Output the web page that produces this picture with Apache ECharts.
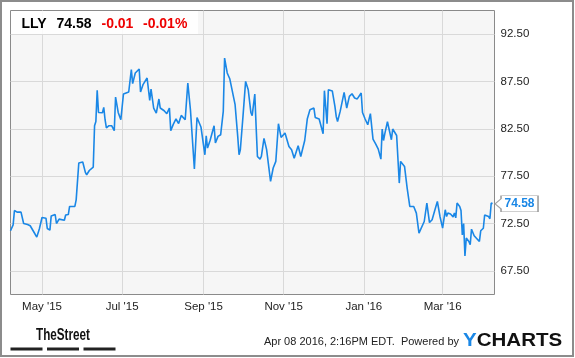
<!DOCTYPE html>
<html><head><meta charset="utf-8">
<script src="https://cdn.jsdelivr.net/npm/echarts@6/dist/echarts.min.js"></script>
<style>html,body{margin:0;padding:0;background:#fff}#c{width:575px;height:358px}</style>
</head><body><div id="c"></div>
<script>
const ticker = 'LLY';
const lastPrice = 74.58;
const change = '-0.01';
const changePct = '-0.01%';
const yTicks = [67.5, 72.5, 77.5, 82.5, 87.5, 92.5];
const xTicks = ['2015-05-01','2015-07-01','2015-09-01','2015-11-01','2016-01-01','2016-03-01'];
const monthNames = ['Jan','Feb','Mar','Apr','May','Jun','Jul','Aug','Sep','Oct','Nov','Dec'];
const footerText = 'Apr 08 2016, 2:16PM EDT.  Powered by';

const dates = [
'2015-04-07','2015-04-09','2015-04-10','2015-04-12','2015-04-13','2015-04-15','2015-04-17','2015-04-20','2015-04-22','2015-04-23',
'2015-04-25','2015-04-27','2015-04-28','2015-04-29','2015-04-30','2015-05-01','2015-05-04','2015-05-05','2015-05-07','2015-05-08',
'2015-05-11','2015-05-12','2015-05-14','2015-05-15','2015-05-18','2015-05-19','2015-05-21','2015-05-22','2015-05-24','2015-05-26',
'2015-05-27','2015-05-29','2015-06-01','2015-06-03','2015-06-04','2015-06-06','2015-06-09','2015-06-10','2015-06-11','2015-06-12',
'2015-06-13','2015-06-16','2015-06-17','2015-06-18','2015-06-19','2015-06-21','2015-06-22','2015-06-23','2015-06-25','2015-06-26',
'2015-06-28','2015-06-30','2015-07-02','2015-07-06','2015-07-08','2015-07-09','2015-07-11','2015-07-14','2015-07-15','2015-07-17',
'2015-07-20','2015-07-22','2015-07-23','2015-07-25','2015-07-27','2015-07-29','2015-07-30','2015-08-02','2015-08-04','2015-08-06',
'2015-08-07','2015-08-09','2015-08-11','2015-08-12','2015-08-13','2015-08-15','2015-08-18','2015-08-19','2015-08-20','2015-08-22',
'2015-08-25','2015-08-27','2015-08-30','2015-09-02','2015-09-03','2015-09-04','2015-09-06','2015-09-09','2015-09-10','2015-09-11',
'2015-09-12','2015-09-14','2015-09-16','2015-09-17','2015-09-19','2015-09-21','2015-09-22','2015-09-25','2015-09-27','2015-09-28',
'2015-09-29','2015-10-01','2015-10-03','2015-10-05','2015-10-07','2015-10-08','2015-10-10','2015-10-11','2015-10-12','2015-10-14',
'2015-10-15','2015-10-17','2015-10-19','2015-10-22','2015-10-23','2015-10-24','2015-10-26','2015-10-28','2015-10-30','2015-11-02',
'2015-11-05','2015-11-07','2015-11-09','2015-11-12','2015-11-14','2015-11-17','2015-11-18','2015-11-19','2015-11-21','2015-11-24',
'2015-11-25','2015-11-28','2015-12-01','2015-12-02','2015-12-04','2015-12-05','2015-12-08','2015-12-09','2015-12-10','2015-12-11',
'2015-12-12','2015-12-14','2015-12-17','2015-12-18','2015-12-19','2015-12-21','2015-12-23','2015-12-25','2015-12-27','2015-12-28',
'2015-12-30','2015-12-31','2016-01-02','2016-01-04','2016-01-06','2016-01-08','2016-01-10','2016-01-12','2016-01-13','2016-01-14',
'2016-01-15','2016-01-16','2016-01-17','2016-01-19','2016-01-22','2016-01-23','2016-01-26','2016-01-27','2016-01-28','2016-01-29',
'2016-02-01','2016-02-02','2016-02-03','2016-02-04','2016-02-05','2016-02-08','2016-02-10','2016-02-12','2016-02-13','2016-02-16',
'2016-02-18','2016-02-20','2016-02-22','2016-02-24','2016-02-26','2016-02-28','2016-03-01','2016-03-03','2016-03-04','2016-03-05',
'2016-03-07','2016-03-08','2016-03-09','2016-03-10','2016-03-11','2016-03-12','2016-03-14','2016-03-15','2016-03-16','2016-03-17',
'2016-03-18','2016-03-19','2016-03-21','2016-03-22','2016-03-23','2016-03-25','2016-03-26','2016-03-29','2016-03-30','2016-04-01',
'2016-04-02','2016-04-05','2016-04-06','2016-04-07','2016-04-08'
];
const prices = [
71.73,72.36,73.87,73.70,73.50,73.70,72.50,72.40,72.26,72.40,
71.55,71.06,70.88,71.94,71.73,73.13,73.06,71.97,71.80,73.30,
73.45,72.50,72.96,72.80,72.85,73.40,73.45,74.30,74.30,74.30,
75.00,78.89,79.00,77.90,77.65,78.10,78.46,82.83,83.28,86.56,
84.23,84.20,84.76,83.46,82.60,82.83,82.69,82.83,82.30,85.86,
84.23,83.46,86.18,86.39,88.75,87.27,88.40,88.82,86.39,87.20,
87.87,85.50,86.70,84.70,84.17,85.65,84.70,84.41,84.10,84.70,
82.30,83.00,83.54,83.46,83.06,83.92,83.46,83.40,87.34,84.52,
78.25,83.70,82.70,79.76,81.77,80.47,81.30,82.83,81.00,80.79,
81.70,81.87,84.34,89.98,88.40,87.76,87.76,85.05,81.70,79.76,
80.29,83.81,87.51,86.63,84.23,83.90,86.18,82.76,79.58,79.30,
79.58,81.49,80.30,76.94,77.00,78.36,79.06,83.04,81.59,82.06,
80.64,80.29,79.40,80.71,79.58,81.27,81.30,83.57,84.52,84.70,
83.70,83.54,81.98,86.53,83.04,86.63,86.50,86.45,84.87,83.81,
83.28,84.34,86.35,86.28,84.70,85.93,86.21,85.76,85.66,85.47,
86.28,84.23,83.54,82.93,84.10,81.42,80.92,80.36,80.40,79.30,
82.48,81.27,82.00,83.25,81.35,82.48,81.80,81.95,76.77,79.06,
78.53,78.36,76.24,76.10,74.30,74.30,73.60,71.49,71.30,72.71,
74.66,72.60,72.90,73.87,74.83,73.24,72.01,73.95,73.24,73.60,
73.50,73.40,73.20,73.60,73.10,74.66,74.30,73.87,71.30,72.50,
69.08,70.96,70.60,70.25,71.90,71.20,71.00,70.60,71.73,72.00,
73.40,73.24,73.00,74.66,74.58
];

const ts = s => new Date(s.length > 10 ? s : s + 'T00:00:00').getTime();
const FONT = '"Liberation Sans", Arial, sans-serif';
const lineColor = '#1a87e6';
const chart = echarts.init(document.getElementById('c'), null, {renderer: 'canvas'});
const seriesData = dates.map((d, i) => [ts(d), prices[i]]);
const xTickTs = xTicks.map(ts);

chart.setOption({
  animation: false,
  backgroundColor: '#fff',
  grid: {left: 10.5, right: 80.5, top: 10.5, bottom: 63.5, show: true,
         backgroundColor: '#f6f6f6', borderColor: '#8a8a8a', borderWidth: 1},
  xAxis: {
    type: 'value',
    min: ts('2015-04-07'),
    max: ts('2016-04-09T12:00:00'),
    axisLine: {show: false},
    axisTick: {show: false, customValues: xTickTs},
    splitLine: {show: true, lineStyle: {color: '#d9d9d9', width: 1}},
    axisLabel: {
      customValues: xTickTs,
      margin: 6,
      color: '#222', fontFamily: FONT, fontSize: 11.5,
      formatter: v => { const d = new Date(v); return monthNames[d.getMonth()] + " '" + String(d.getFullYear()).slice(2); }
    }
  },
  yAxis: {
    type: 'value',
    position: 'right',
    min: 65, max: 95,
    axisLine: {show: false},
    axisTick: {show: false, customValues: yTicks},
    splitLine: {show: true, lineStyle: {color: '#d9d9d9', width: 1}},
    axisLabel: {customValues: yTicks, margin: 6, color: '#222', fontFamily: FONT, fontSize: 11.5,
                formatter: v => v.toFixed(2)}
  },
  series: [{
    type: 'line',
    data: seriesData,
    showSymbol: false,
    symbol: 'none',
    lineStyle: {color: lineColor, width: 1.6},
    markPoint: {
      symbol: 'path://M0,8 L6,3 L6,0 L43,0 L43,16 L6,16 L6,13 Z',
      symbolSize: [43, 16],
      symbolOffset: [24, 0],
      itemStyle: {color: '#fff', borderColor: '#a0a0a0', borderWidth: 1},
      label: {show: true, position: 'inside', offset: [3, 0], color: lineColor, fontWeight: 'bold',
              fontFamily: FONT, fontSize: 12, formatter: () => lastPrice.toFixed(2)},
      data: [{coord: [ts(dates[dates.length - 1]), prices[prices.length - 1]]}]
    }
  }],
  graphic: [
    {type: 'rect', shape: {x: 11, y: 11, width: 187, height: 23}, style: {fill: 'rgba(255,255,255,0.85)'}, z: 50, silent: true},
    {type: 'text', x: 21.5, y: 24, z: 60, style: {text: ticker, font: 'bold 14px ' + FONT, fill: '#000', verticalAlign: 'middle'}},
    {type: 'text', x: 56.5, y: 24, z: 60, style: {text: lastPrice.toFixed(2), font: 'bold 14px ' + FONT, fill: '#000', verticalAlign: 'middle'}},
    {type: 'text', x: 101.5, y: 24, z: 60, style: {text: change, font: 'bold 14px ' + FONT, fill: '#ee0000', verticalAlign: 'middle'}},
    {type: 'text', x: 143, y: 24, z: 60, style: {text: changePct, font: 'bold 14px ' + FONT, fill: '#ee0000', verticalAlign: 'middle'}},
    {type: 'text', x: 36, y: 335.5, scaleX: 0.73, z: 60, style: {text: 'TheStreet', font: 'bold 16px ' + FONT, fill: '#111', verticalAlign: 'middle'}},
    {type: 'rect', shape: {x: 10.5, y: 347.5, width: 32, height: 3}, style: {fill: '#222'}, z: 60},
    {type: 'rect', shape: {x: 47, y: 347.5, width: 32, height: 3}, style: {fill: '#222'}, z: 60},
    {type: 'rect', shape: {x: 83.5, y: 347.5, width: 32, height: 3}, style: {fill: '#222'}, z: 60},
    {type: 'text', x: 459, y: 342, z: 60, style: {text: footerText, font: '11px ' + FONT, fill: '#222', align: 'right', verticalAlign: 'middle'}},
    {type: 'text', x: 463, y: 341, scaleX: 1.08, z: 60, style: {
      text: '{y|Y}{c|CHARTS}', verticalAlign: 'middle',
      rich: {y: {font: 'bold 19px ' + FONT, fill: '#1a87e6'}, c: {font: 'bold 19px ' + FONT, fill: '#111'}}
    }},
    {type: 'rect', shape: {x: 1, y: 1, width: 572, height: 355}, style: {fill: 'none', stroke: '#8c8c8c', lineWidth: 2}, z: 100, silent: true}
  ]
});
</script></body></html>
